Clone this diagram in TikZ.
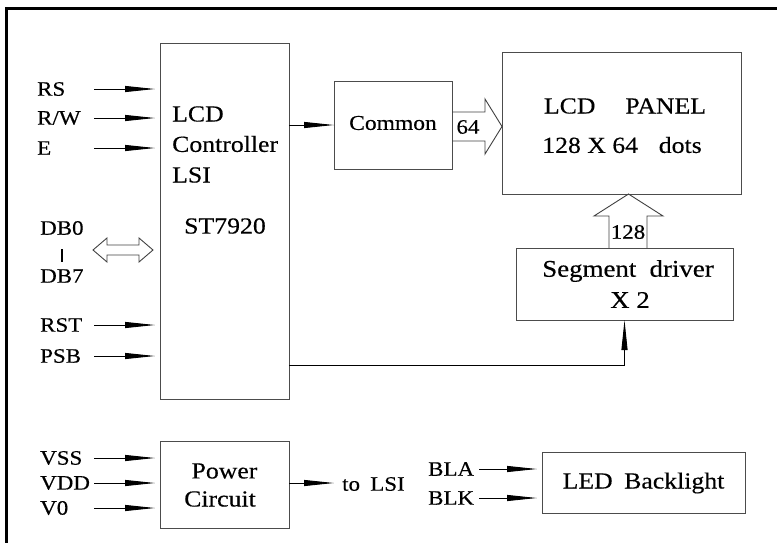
\documentclass[tikz,border=0pt]{standalone}
\usepackage{fontspec}
\setmainfont{Liberation Serif}[FakeStretch=1.12,FakeBold=0.35]
\usetikzlibrary{arrows.meta,calc}
\begin{document}
\begin{tikzpicture}[x=1pt,y=-1pt,
  box/.style={draw=black!70, line width=1pt, inner sep=0pt, outer sep=0pt, fill=none},
  lbl/.style={font=\fontsize{20.5}{22}\selectfont, inner sep=0pt, anchor=west},
  txt/.style={font=\fontsize{23}{26}\selectfont, inner sep=0pt},
  sig/.style={line width=0.9pt, -{Triangle[length=30pt,width=6pt]}},
  fat/.style={draw=black!75, line width=0.9pt, line join=miter}]
\useasboundingbox (0,0) rectangle (777,542);
% outer frame
\draw[line width=3pt] (6.5,560) -- (6.5,8) -- (800,8);
% boxes
\node[box, minimum width=129pt, minimum height=356pt] (ctrl) at (224.5,221) {};
\node[box, minimum width=118pt, minimum height=88pt] (common) at (393,125) {};
\node[box, minimum width=239pt, minimum height=142pt] (panel) at (621.5,123) {};
\node[box, minimum width=217pt, minimum height=72pt] (seg) at (624.5,284) {};
\node[box, minimum width=129pt, minimum height=87pt] (power) at (224.5,484.5) {};
\node[box, minimum width=203pt, minimum height=61pt] (led) at (643.5,482.5) {};
% texts in boxes
\node[txt, anchor=west] (t1) at (172,114) {LCD};
\node[txt, anchor=west] (t2) at (172,144) {Controller};
\node[txt, anchor=west] (t3) at (172,175) {LSI};
\node[txt] (t4) at (225,226) {ST7920};
\node[txt, font=\fontsize{21}{24}\selectfont] (tc) at (393,123) {Common};
\node[txt] (tp1) at (625,106) {LCD\hspace{1.3em}PANEL};
\node[txt] (tp2) at (622,145) {128 X 64\hspace{0.9em}dots};
\node[txt, font=\fontsize{24}{26}\selectfont] (ts1) at (628,271) {Segment\hspace{0.55em}driver};
\node[txt, font=\fontsize{24}{26}\selectfont] (ts2) at (630,300) {X 2};
\node[txt] (tw1) at (224.5,471) {Power};
\node[txt] (tw2) at (220,499) {Circuit};
\node[txt] (tl) at (643.5,483) {LED\hspace{0.5em}Backlight};
% left labels and input arrows
\node[lbl] (rs) at (37,89) {RS};
\node[lbl] (rw) at (37,118) {R/W};
\node[lbl] (e) at (37,148) {E};
\node[lbl] (db0) at (40,228) {DB0};
\node[lbl] (db7) at (40,276) {DB7};
\node[lbl] (rst) at (40,325) {RST};
\node[lbl] (psb) at (40,356) {PSB};
\node[lbl] (vss) at (40,458) {VSS};
\node[lbl] (vdd) at (40,483) {VDD};
\node[lbl] (v0) at (40,508) {V0};
\foreach \n in {rs,rw,e,rst,psb,vss,vdd,v0}{
  \coordinate (\n s) at (94,0 |- \n.west);
  \draw[sig, shorten >=5pt] (\n s) -- (ctrl.west |- \n s);
}
\draw[line width=1.3pt] (62,249) -- (62,262);
% DB bidirectional fat arrow
\draw[fat] (93,250) -- (107,238) -- (107,245) -- (139,245) -- (139,238) -- (153,250)
  -- (139,262) -- (139,255) -- (107,255) -- (107,262) -- cycle;
% controller to common
\coordinate (cc) at (ctrl.east |- 0,125);
\draw[sig] (cc) -- (common.west |- cc);
% 64 fat arrow
\draw[fat] (common.east |- 0,112) -- (485,112) -- (485,99) -- (panel.west |- 0,126.5)
  -- (485,154) -- (485,141) -- (common.east |- 0,141);
\node[lbl, anchor=center] (n64) at (468,127) {64};
% 128 fat arrow
\draw[fat] (609,0 |- seg.north) -- (609,216) -- (594,216) -- (628.5,0 |- panel.south)
  -- (663,216) -- (647,216) -- (647,0 |- seg.north);
\node[lbl, anchor=center] (n128) at (628,232) {128};
% controller to segment driver
\coordinate (cs) at (ctrl.east |- 0,365);
\draw[sig] (cs) -- (seg.south |- cs) -- (seg.south);
% power output
\coordinate (pe) at (power.east |- 0,483);
\coordinate (pt) at (334,483);
\draw[sig] (pe) -- (pt);
\node[lbl] (tolsi) at (342,484) {to\hspace{0.5em}LSI};
% backlight inputs
\node[lbl] (bla) at (428,469) {BLA};
\node[lbl] (blk) at (428,498) {BLK};
\foreach \n in {bla,blk}{
  \coordinate (\n s) at (479,0 |- \n.west);
  \draw[sig, shorten >=5pt] (\n s) -- (led.west |- \n s);
}
\end{tikzpicture}
\end{document}
